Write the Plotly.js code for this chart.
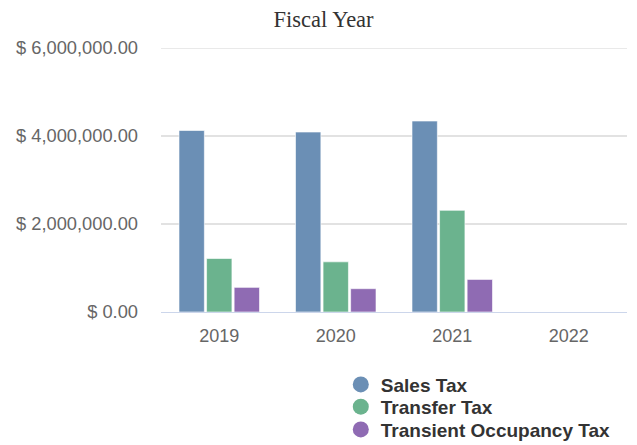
<!DOCTYPE html>
<html>
<head>
<meta charset="utf-8">
<script src="https://cdn.plot.ly/plotly-3.0.1.min.js"></script>
<style>html,body{margin:0;padding:0;background:#fff}#chart{width:637px;height:445px}</style>
</head>
<body>
<div id="chart"></div>
<script>
const years = ['2019', '2020', '2021', '2022'];
const salesTax = [4125000, 4090000, 4340000, null];
const transferTax = [1216000, 1140000, 2310000, null];
const transientOccupancyTax = [560000, 530000, 740000, null];
const seriesNames = ['Sales Tax', 'Transfer Tax', 'Transient Occupancy Tax'];
const colors = ['#6b8fb5', '#6bb38e', '#8f6bb3'];
const yTicks = [0, 2000000, 4000000, 6000000];
const yTickText = yTicks.map(v => '$ ' + v.toLocaleString('en-US', {minimumFractionDigits: 2, maximumFractionDigits: 2}));

const seriesData = [salesTax, transferTax, transientOccupancyTax];
const legendIds = ['legend', 'legend2', 'legend3'];
const traces = [];
seriesData.forEach((vals, i) => {
  traces.push({
    type: 'bar', x: years, y: vals, name: seriesNames[i], showlegend: false,
    marker: {color: colors[i], line: {color: 'rgba(255,255,255,0.6)', width: 1}},
    hoverinfo: 'x+y+name'
  });
});
seriesNames.forEach((n, i) => {
  traces.push({
    type: 'scatter', mode: 'markers', x: [null], y: [null], name: n, legend: legendIds[i],
    marker: {color: colors[i], size: 19, symbol: 'circle'}, showlegend: true
  });
});

const legendFont = {family: 'Liberation Sans, Arial, sans-serif', size: 19, color: '#333', weight: 'bold'};
const legendTops = [0.1785, 0.1284, 0.0774];
function mkLegend(y) {
  return {xref: 'container', yref: 'container', x: 0.535, xanchor: 'left', y: y, yanchor: 'top',
          orientation: 'v', bgcolor: 'rgba(0,0,0,0)', font: legendFont};
}

const layout = {
  width: 637, height: 445,
  margin: {l: 161, r: 10, t: 48, b: 133, autoexpand: false},
  paper_bgcolor: '#fff', plot_bgcolor: '#fff',
  title: {text: 'Fiscal Year', font: {family: 'Liberation Serif, Times New Roman, serif', size: 22.5, color: '#333'},
          x: 0.508, xanchor: 'center', y: 0.975, yanchor: 'top', xref: 'container'},
  barmode: 'group', bargap: 0.29, bargroupgap: 0.08,
  xaxis: {type: 'category', categoryarray: years, showline: true, linecolor: '#ccd6eb', linewidth: 1,
          showgrid: false, zeroline: false, ticks: '', automargin: false, ticklabelstandoff: 7,
          tickfont: {family: 'Liberation Sans, Arial, sans-serif', size: 18, color: '#666'}},
  yaxis: {range: [0, 6000000], tickmode: 'array', tickvals: yTicks, ticktext: yTickText,
          showgrid: true, gridcolor: 'rgb(226,226,226)', gridwidth: 1.5, zeroline: false, showline: false,
          ticks: '', ticklabelstandoff: 22, automargin: false,
          tickfont: {family: 'Liberation Sans, Arial, sans-serif', size: 18.3, color: '#666'}},
  legend: mkLegend(legendTops[0]),
  legend2: mkLegend(legendTops[1]),
  legend3: mkLegend(legendTops[2]),
  shapes: yTicks.slice(1).map(v => ({type: 'line', xref: 'paper', x0: 0, x1: 1, yref: 'y', y0: v, y1: v,
          line: {color: 'rgb(226,226,226)', width: 1.5}, layer: 'below'})),
  showlegend: true
};
Plotly.newPlot('chart', traces, layout, {displayModeBar: false, staticPlot: true});
</script>
</body>
</html>
